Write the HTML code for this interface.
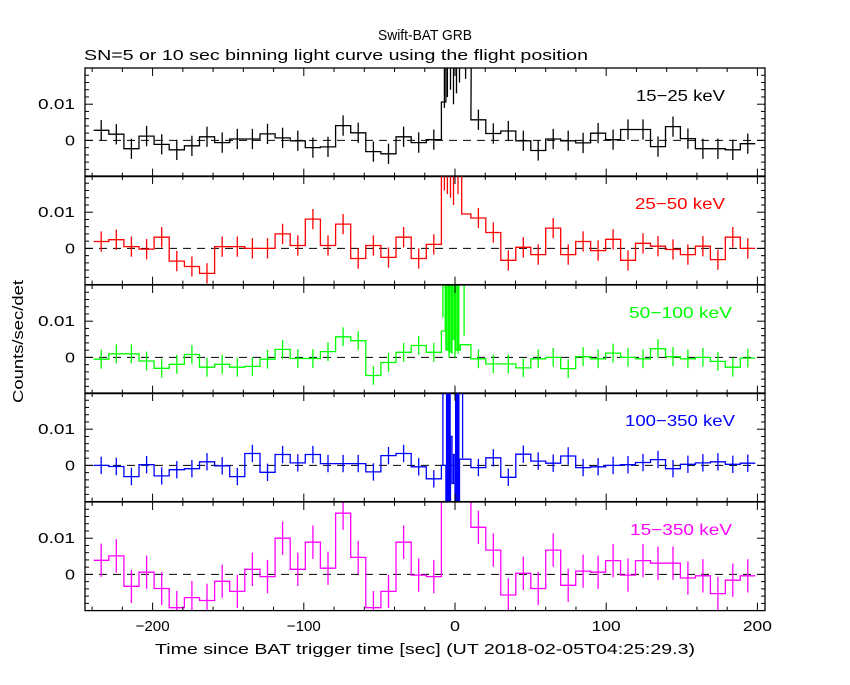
<!DOCTYPE html>
<html><head><meta charset="utf-8"><style>
html,body{margin:0;padding:0;background:#fff;}
svg text{font-family:"Liberation Sans",sans-serif;}
</style></head><body>
<svg id="s" width="850" height="680" xmlns="http://www.w3.org/2000/svg"></svg>
<script>
const svg=document.getElementById('s');
let out='';
const L=85,R=765,tops=[68,176,285,393,502],H=108.6;
const X=s=>455+s*1.512;
const TL='lengthAdjust="spacingAndGlyphs"';
out+=`<text x="378" y="40" font-size="15" textLength="94" ${TL}>Swift-BAT GRB</text>`;
out+=`<text x="84" y="60" font-size="15" textLength="504" ${TL}>SN=5 or 10 sec binning light curve using the flight position</text>`;
const P=[
 {c:'#000',lab:'15\u221225 keV',lx:636,lw:89,e:2.8,
  left:[2.8,1.7,-2.3,1.2,-1.1,-2.6,-1.5,1.0,-0.6,0.4,0.4,1.8,0.7,-0.1,-2.0,-1.8,4.1,2.1,-3.1,-3.7,1.0,-0.6,0.2],
  burst:[[-9,-6,10.6],[-6,11,40]],
  spikes:[[-7,9],[-5,12],[-3,14],[-1,10],[1,13],[3,16],[7,17]],
  right:[5.7,1.9,2.6,-0.1,-2.8,0.4,-0.1,-0.7,2.0,0.2,3.0,3.0,-1.7,3.8,0.5,-2.3,-2.3,-2.6,-0.9]},
 {c:'#f00',lab:'25\u221250 keV',lx:635,lw:90,e:2.8,
  left:[1.9,2.4,0.5,-0.2,3.1,-3.5,-5.0,-6.9,0.5,0.5,0,0,4.0,0.8,8.1,0.8,6.7,-2.8,0.8,-2.5,3.1,-2.8,1.1],
  burst:[[-9,4.4,40],[4.4,10.5,9.5]],
  spikes:[[-7,16],[-5,15],[-3,14],[-1,12],[2,15]],
  right:[8.4,4.4,-3.3,0.3,-1.7,5.6,-1.7,1.9,-0.6,2.5,-3.3,1.4,0.6,-0.3,-1.7,0.6,-3.1,3.1,0]},
 {c:'#0f0',lab:'50\u2212100 keV',lx:629,lw:103,e:2.6,
  left:[-0.5,1.0,1.0,-1.0,-3.0,-1.9,0.8,-2.7,-1.9,-2.7,-2.5,-0.5,2.2,-0.3,-0.3,1.6,5.7,4.6,-5.0,-1.4,1.4,3.3,1.4],
  burst:[[-9,-6.5,7.3],[-6.5,-5.5,25],[-5.5,-4.5,2],[-4.5,-3.5,25],[-3.5,-2.5,1.5],[-2.5,-1.5,25],[-1.5,-0.5,5],[-0.5,0.5,25],[0.5,1.5,2],[1.5,2.5,25],[2.5,3.5,2],[3.5,10.5,3.5]],
  spikes:[[-8,11],[-6,2],[-4,0],[-2,1],[0,0],[2,1],[6,6]],
  right:[-0.4,-1.8,-1.8,-2.9,-0.4,0,-3.1,0.2,-0.4,1.2,0,-0.4,2.4,0.2,-0.4,0,-1.1,-2.7,-0.2]},
 {c:'#00f',lab:'100\u2212350 keV',lx:625,lw:110,e:2.4,
  left:[0,-0.3,-3.1,0.2,-2.9,-1.2,-0.9,1.0,-0.1,-3.1,3.3,-1.9,3.0,0.7,3.0,0.5,0.5,0.5,-1.8,2.7,3.3,-0.4,-3.7],
  burst:[[-9,-6,0],[-6,-5,-40],[-5,-4,40],[-4,-3,-40],[-3,-2,8],[-2,-1,-5],[-1,0,3],[0,1,-40],[1,2,40],[2,3,-40],[3,10.5,1.7]],
  spikes:[[-8,0],[5,2]],
  rects:[[-6,-2.8],[0,3]],
  right:[-0.6,2.1,-3.3,3.1,1.2,0.6,2.6,-0.6,-0.4,0,0.2,0.8,1.6,-0.9,0.3,0.7,1.0,0.3,0.6]},
 {c:'#f0f',lab:'15\u2212350 keV',lx:630,lw:102,e:4.6,
  left:[3.9,5.1,-3.3,0.6,-3.9,-9.2,-6.4,-7.2,-1.9,-4.7,1.4,-0.6,10,1.4,8.9,1.7,16.9,4.7,-9.2,-4.7,8.9,-0.2,-0.6],
  burst:[[-9,10.5,40]],
  spikes:[],
  right:[13.0,6.7,-5.7,0.3,-3.9,6.7,-3.0,0.9,0.6,3.8,-0.2,3.8,3.1,3.1,-1.0,-0.4,-5.3,-1.6,-0.4]}
];
P.forEach((p,i)=>{
 const T=tops[i],B=T+H;
 const Y=v=>T+(20-v)*H/30;
 out+=`<clipPath id="c${i}"><rect x="${L}" y="${T}" width="${R-L}" height="${H}"/></clipPath>`;
 let segs=[];
 p.left.forEach((v,k)=>segs.push([-239+10*k,-229+10*k,v]));
 p.burst.forEach(s=>segs.push(s));
 p.right.forEach((v,k)=>segs.push([10.5+9.9*k,20.4+9.9*k,v]));
 let d='';
 segs.forEach((s,j)=>{const x0=X(s[0]).toFixed(1),x1=X(s[1]).toFixed(1),y=Y(s[2]).toFixed(1);
  d+=(j==0?`M${x0},${y}`:`L${x0},${y}`)+`L${x1},${y}`;});
 let g=`<g clip-path="url(#c${i})" stroke="${p.c}" fill="none" stroke-width="1.3">`;
 g+=`<line x1="${L}" x2="${R}" y1="${Y(0)}" y2="${Y(0)}" stroke="#000" stroke-dasharray="8,6" stroke-width="1"/>`;
 g+=`<path d="${d}"/>`;
 const eb=(s,v)=>{const x=X(s).toFixed(1);g+=`<line x1="${x}" x2="${x}" y1="${Y(v+p.e)}" y2="${Y(v-p.e)}"/>`;};
 p.left.forEach((v,k)=>eb(-234+10*k,v));
 p.right.forEach((v,k)=>eb(15.45+9.9*k,v));
 p.spikes.forEach(s=>{const x=X(s[0]).toFixed(1);g+=`<line x1="${x}" x2="${x}" y1="${T}" y2="${Y(s[1])}"/>`;});
 if(p.rects)p.rects.forEach(r=>{g+=`<rect x="${X(r[0])}" y="${T}" width="${X(r[1])-X(r[0])}" height="${H}" fill="${p.c}" stroke="none"/>`;});
 g+='</g>';
 out+=g;
 out+=`<rect x="${L}" y="${T}" width="${R-L}" height="${H}" fill="none" stroke="#000" stroke-width="1.3"/>`;
 for(let s=-240;s<=200;s+=20){const x=X(s);if(x<L||x>R)continue;const len=(s%100==0)?8:4;
  out+=`<line x1="${x}" x2="${x}" y1="${T}" y2="${T+len}" stroke="#000"/><line x1="${x}" x2="${x}" y1="${B}" y2="${B-len}" stroke="#000"/>`;}
 for(let v=-10;v<=20;v+=2){const y=Y(v);if(y<T+0.5||y>B-0.5)continue;const len=(v%10==0)?8:4;
  out+=`<line x1="${L}" x2="${L+len}" y1="${y}" y2="${y}" stroke="#000"/><line x1="${R}" x2="${R-len}" y1="${y}" y2="${y}" stroke="#000"/>`;}
 out+=`<text x="38" y="${Y(10)+5}" font-size="15" textLength="37" ${TL}>0.01</text>`;
 out+=`<text x="65" y="${Y(0)+5}" font-size="15" textLength="10" ${TL}>0</text>`;
 out+=`<text x="${p.lx}" y="${T+33}" font-size="16" fill="${p.c}" textLength="${p.lw}" ${TL}>${p.lab}</text>`;
});
[[-200,'\u2212200',34],[-100,'\u2212100',34],[0,'0',10],[100,'100',29],[200,'200',29]].forEach(t=>{
 out+=`<text x="${X(t[0])-t[2]/2}" y="631" font-size="15" textLength="${t[2]}" ${TL}>${t[1]}</text>`;});
out+=`<text x="155" y="654" font-size="15" textLength="540" ${TL}>Time since BAT trigger time [sec] (UT 2018-02-05T04:25:29.3)</text>`;
out+=`<text transform="translate(23,403) rotate(-90)" font-size="15" textLength="123" ${TL}>Counts/sec/det</text>`;
svg.innerHTML=out;
</script>
</body></html>
